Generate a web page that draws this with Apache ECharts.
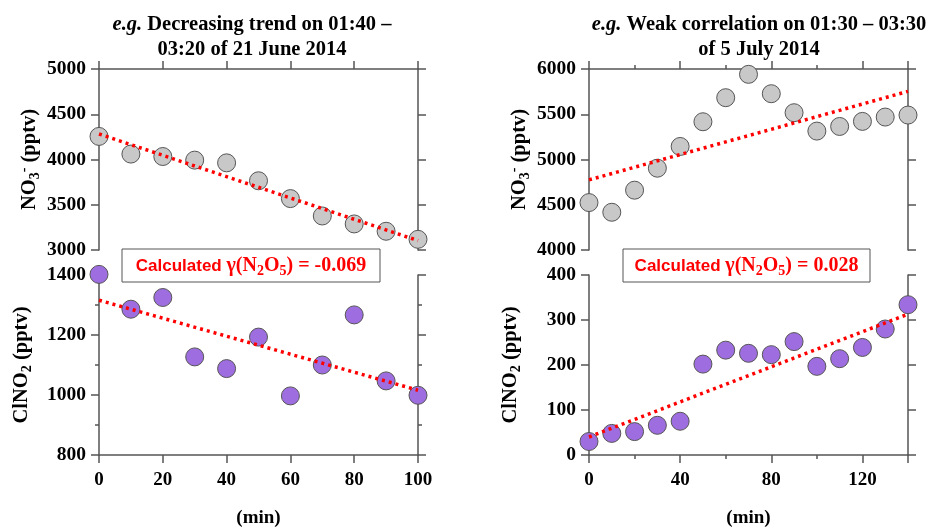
<!DOCTYPE html>
<html>
<head>
<meta charset="utf-8">
<title>NO3- and ClNO2 examples</title>
<script src="https://cdn.jsdelivr.net/npm/echarts@6/dist/echarts.min.js"></script>
<style>
  html, body { margin: 0; padding: 0; background: #fff; }
  #chart { width: 930px; height: 529px; }
</style>
</head>
<body>
<div id="chart"></div>
<script>
// 21 June 2014, 01:40 - 03:20
const juneMinutes = [0, 10, 20, 30, 40, 50, 60, 70, 80, 90, 100];
const juneNO3 = [4255, 4060, 4033, 3993, 3963, 3765, 3568, 3376, 3288, 3207, 3118];
const juneClNO2 = [1402, 1286, 1325, 1127, 1088, 1193, 997, 1100, 1267, 1047, 999];
const juneNO3Fit = [4282, 3104]; // dotted fit line, value at first and last minute
const juneClNO2Fit = [1316, 1016];
const juneGamma = "-0.069";

// 5 July 2014, 01:30 - 03:30
const julyMinutes = [0, 10, 20, 30, 40, 50, 60, 70, 80, 90, 100, 110, 120, 130, 140];
const julyNO3 = [4524, 4417, 4661, 4904, 5144, 5417, 5683, 5941, 5727, 5517, 5314, 5365, 5421, 5469, 5491];
const julyClNO2 = [30, 48, 52, 66, 75, 202, 233, 226, 223, 252, 197, 214, 239, 280, 334];
const julyNO3Fit = [4775, 5753];
const julyClNO2Fit = [40, 313];
const julyGamma = "0.028";

const serif = "Liberation Serif";
const axisColor = "#555";

const nameRich = {
  b: { fontFamily: serif, fontWeight: "bold", fontSize: 20.5, color: "#000", lineHeight: 25 },
  sub: { fontFamily: serif, fontWeight: "bold", fontSize: 14, color: "#000", lineHeight: 15, verticalAlign: "bottom" },
  sup: { fontFamily: serif, fontWeight: "bold", fontSize: 14, color: "#000", lineHeight: 15, verticalAlign: "top" },
};

function xAxis(grid, position, max, interval, minor, labels) {
  return {
    type: "value",
    gridIndex: grid,
    position: position,
    min: 0,
    max: max,
    interval: interval,
    name: labels ? "(min)" : "",
    nameLocation: "middle",
    nameGap: 54,
    nameTextStyle: { fontFamily: serif, fontWeight: "bold", fontSize: 19, color: "#000" },
    axisLine: { show: true, onZero: false, lineStyle: { color: axisColor, width: 1.5 } },
    axisTick: { show: true, length: 8, lineStyle: { color: axisColor, width: 1.5 } },
    minorTick: { show: minor, splitNumber: 2, length: 4, lineStyle: { color: axisColor, width: 1.5 } },
    axisLabel: {
      show: labels,
      showMaxLabel: max % interval === 0,
      margin: 16,
      fontFamily: serif,
      fontWeight: "bold",
      fontSize: 19,
      color: "#000",
      formatter: (v) => String(v),
    },
    splitLine: { show: false },
  };
}

function yAxis(grid, position, min, max, interval, minor, name, nameGap) {
  const left = position === "left";
  return {
    type: "value",
    gridIndex: grid,
    position: position,
    min: min,
    max: max,
    interval: interval,
    name: left ? name : "",
    nameLocation: "middle",
    nameGap: nameGap,
    nameTextStyle: { rich: nameRich },
    axisLine: { show: true, onZero: false, lineStyle: { color: axisColor, width: 1.5 } },
    axisTick: { show: true, length: 8, lineStyle: { color: axisColor, width: 1.5 } },
    minorTick: { show: minor, splitNumber: 2, length: 4, lineStyle: { color: axisColor, width: 1.5 } },
    axisLabel: {
      show: left,
      margin: 13,
      fontFamily: serif,
      fontWeight: "bold",
      fontSize: 19.5,
      color: "#000",
      formatter: (v) => String(v),
    },
    splitLine: { show: false },
  };
}

function scatter(x, y, minutes, values, fill) {
  return {
    type: "scatter",
    xAxisIndex: x,
    yAxisIndex: y,
    clip: false,
    symbolSize: 18,
    itemStyle: { color: fill, borderColor: "#555", borderWidth: 1, opacity: 1 },
    data: minutes.map((m, i) => [m, values[i]]),
    z: 2,
  };
}

function fit(x, y, minutes, ends) {
  return {
    type: "line",
    xAxisIndex: x,
    yAxisIndex: y,
    symbol: "none",
    clip: false,
    lineStyle: { color: "#ff0000", width: 3.5, type: [3, 4] },
    data: [[minutes[0], ends[0]], [minutes[minutes.length - 1], ends[1]]],
    z: 3,
  };
}

function gammaBox(x, w, value) {
  return [
    {
      type: "rect",
      shape: { x: x, y: 249, width: w, height: 33 },
      style: { fill: "#fff", stroke: "#555", lineWidth: 1 },
      z: 100,
    },
    {
      type: "text",
      x: x + w / 2,
      y: 266,
      z: 101,
      style: {
        text: "{s|Calculated }{t|γ(N}{sub|2}{t|O}{sub|5}{t|) = " + value + "}",
        align: "center",
        verticalAlign: "middle",
        rich: {
          s: { fontFamily: "Liberation Sans", fontWeight: "bold", fontSize: 17, fill: "#f00", lineHeight: 24 },
          t: { fontFamily: serif, fontWeight: "bold", fontSize: 20, fill: "#f00", lineHeight: 24 },
          sub: { fontFamily: serif, fontWeight: "bold", fontSize: 14, fill: "#f00", lineHeight: 16, verticalAlign: "bottom" },
        },
      },
    },
  ];
}

const titleRich = {
  i: { fontFamily: serif, fontWeight: "bold", fontStyle: "italic", fontSize: 20.5, color: "#000", lineHeight: 25 },
  b: { fontFamily: serif, fontWeight: "bold", fontSize: 20.5, color: "#000", lineHeight: 25 },
};

const no3Name = "{b|NO}{sub|3}{sup|-}{b| (pptv)}";
const clno2Name = "{b|ClNO}{sub|2}{b| (pptv)}";

const option = {
  animation: false,
  backgroundColor: "#fff",
  title: [
    {
      text: "{i|e.g.}{b| Decreasing trend on 01:40 –}\n{b|03:20 of 21 June 2014}",
      left: 252,
      top: 12,
      padding: 0,
      textAlign: "center",
      textStyle: { rich: titleRich },
    },
    {
      text: "{i|e.g.}{b| Weak correlation on 01:30 – 03:30}\n{b|of 5 July 2014}",
      left: 759,
      top: 12,
      padding: 0,
      textAlign: "center",
      textStyle: { rich: titleRich },
    },
  ],
  grid: [
    { left: 99, top: 69, width: 319, height: 181 },
    { left: 99, top: 275, width: 319, height: 181 },
    { left: 589, top: 69, width: 319, height: 181 },
    { left: 589, top: 275, width: 319, height: 181 },
  ],
  xAxis: [
    xAxis(0, "top", 100, 20, false, false),
    xAxis(1, "bottom", 100, 20, false, true),
    xAxis(2, "top", 140, 40, true, false),
    xAxis(3, "bottom", 140, 40, true, true),
  ],
  yAxis: [
    yAxis(0, "left", 3000, 5000, 500, false, no3Name, 57),
    yAxis(0, "right", 3000, 5000, 500, false),
    yAxis(1, "left", 800, 1400, 200, true, clno2Name, 65),
    yAxis(1, "right", 800, 1400, 200, true),
    yAxis(2, "left", 4000, 6000, 500, false, no3Name, 57),
    yAxis(2, "right", 4000, 6000, 500, false),
    yAxis(3, "left", 0, 400, 100, false, clno2Name, 66),
    yAxis(3, "right", 0, 400, 100, false),
  ],
  series: [
    scatter(0, 0, juneMinutes, juneNO3, "#c8c8c8"),
    fit(0, 0, juneMinutes, juneNO3Fit),
    scatter(1, 2, juneMinutes, juneClNO2, "#9e6ee0"),
    fit(1, 2, juneMinutes, juneClNO2Fit),
    scatter(2, 4, julyMinutes, julyNO3, "#c8c8c8"),
    fit(2, 4, julyMinutes, julyNO3Fit),
    scatter(3, 6, julyMinutes, julyClNO2, "#9e6ee0"),
    fit(3, 6, julyMinutes, julyClNO2Fit),
  ],
  graphic: [...gammaBox(122, 258, juneGamma), ...gammaBox(623, 247, julyGamma)],
};

const myChart = echarts.init(document.getElementById("chart"));
myChart.setOption(option);
</script>
</body>
</html>
